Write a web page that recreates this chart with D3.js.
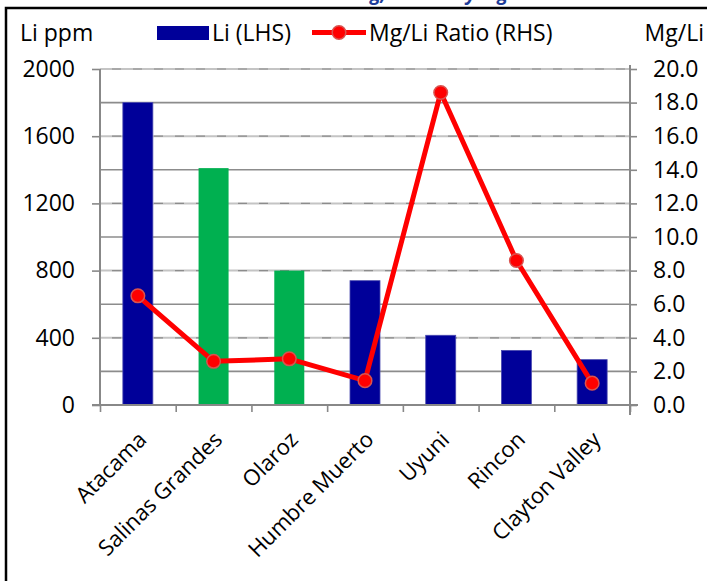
<!DOCTYPE html>
<html>
<head>
<meta charset="utf-8">
<script src="https://cdn.jsdelivr.net/npm/d3@7"></script>
<style>
  html, body { margin: 0; padding: 0; background: #fff; }
  svg { display: block; }
  text { font-family: "Open Sans", Lato, sans-serif; fill: #000; }
</style>
</head>
<body>
<svg id="chart" width="707" height="581"></svg>
<script>
// Brine sources, lithium grade (ppm) and Mg/Li ratio
const categories = ["Atacama", "Salinas Grandes", "Olaroz", "Humbre Muerto", "Uyuni", "Rincon", "Clayton Valley"];
const liPpm = [1800, 1410, 800, 740, 415, 325, 270];
const mgLiRatio = [6.5, 2.6, 2.75, 1.45, 18.6, 8.6, 1.3];
const barGroup = ["navy", "green", "green", "navy", "navy", "navy", "navy"];
const leftTicks = [0, 400, 800, 1200, 1600, 2000];
const rightTicks = [0, 2, 4, 6, 8, 10, 12, 14, 16, 18, 20];

const colors = { navy: "#000099", green: "#00b050", line: "#ff0000" };
const gridDark = "#8c8c8c";
const fontMain = "23px";

const svg = d3.select("#chart");
const W = 707, H = 581;
const plot = { left: 100, right: 630, top: 69, bottom: 405 };

const x = d3.scaleBand().domain(categories).range([plot.left, plot.right]).paddingInner(0).paddingOuter(0);
const yL = d3.scaleLinear().domain([0, 2000]).range([plot.bottom, plot.top]);
const yR = d3.scaleLinear().domain([0, 20]).range([plot.bottom, plot.top]);

// Title (sits above the frame)
svg.append("text")
  .attr("x", 390).attr("y", -0.5)
  .attr("text-anchor", "middle")
  .style("font-weight", "bold").style("font-style", "italic")
  .style("font-size", "19px").style("fill", "#1f3d99")
  .text("Brine Grade Ranking, Sorted by Mg/Li Ratio");

// Outer frame: left and top edges
svg.append("path")
  .attr("d", `M6,${H} L6,8 L${W},8`)
  .attr("fill", "none").attr("stroke", "#000").attr("stroke-width", 2.5);

// Gridlines: solid at every RHS step, dashed overlay at LHS ticks
const grid = svg.append("g");
rightTicks.forEach(v => {
  if (v === 0) return;
  const yy = yR(v);
  const onLeft = leftTicks.some(t => Math.abs(yL(t) - yy) < 0.5);
  if (onLeft) {
    grid.append("line").attr("x1", plot.left).attr("x2", plot.right).attr("y1", yy).attr("y2", yy)
      .attr("stroke", "#c4c4c4").attr("stroke-width", 2);
    grid.append("line").attr("x1", plot.left).attr("x2", plot.right).attr("y1", yy).attr("y2", yy)
      .attr("stroke", gridDark).attr("stroke-width", 1.2).attr("stroke-dasharray", "9,12")
      .attr("stroke-dashoffset", -12);
  } else {
    grid.append("line").attr("x1", plot.left).attr("x2", plot.right).attr("y1", yy).attr("y2", yy)
      .attr("stroke", gridDark).attr("stroke-width", 1.6);
  }
});

// Bars
const barW = 30;
svg.append("g").selectAll("rect").data(categories).join("rect")
  .attr("x", (d) => x(d) + x.bandwidth() / 2 - barW / 2)
  .attr("y", (d, i) => yL(liPpm[i]))
  .attr("width", barW)
  .attr("height", (d, i) => yL(0) - yL(liPpm[i]))
  .attr("fill", (d, i) => colors[barGroup[i]])
  .attr("stroke", (d, i) => barGroup[i] === "navy" ? "#4a4ab0" : "none")
  .attr("stroke-width", 0.8);

// Axes
const axisColor = "#888888";
const gL = svg.append("g").attr("transform", `translate(${plot.left},0)`)
  .call(d3.axisLeft(yL).tickValues(leftTicks).tickSize(8).tickPadding(17).tickFormat(d3.format("d")));
const gR = svg.append("g").attr("transform", `translate(${plot.right},0)`)
  .call(d3.axisRight(yR).tickValues(rightTicks).tickSize(7).tickPadding(16).tickFormat(d3.format(".1f")));
const gB = svg.append("g").attr("transform", `translate(0,${plot.bottom})`)
  .call(d3.axisBottom(d3.scaleLinear().domain([0, categories.length]).range([plot.left, plot.right]))
    .tickValues(d3.range(categories.length + 1)).tickSize(7).tickFormat(""));

[gL, gR, gB].forEach(g => {
  g.select(".domain").attr("stroke", axisColor).attr("stroke-width", 2);
  g.selectAll(".tick line").attr("stroke", axisColor).attr("stroke-width", 1.6);
  g.selectAll(".tick text").style("font-size", fontMain).style("font-family", "'Open Sans', sans-serif").attr("fill", "#000");
});
gL.select(".domain").attr("d", `M0,${plot.top}V${plot.bottom}`);
gR.select(".domain").attr("d", `M0,${plot.top - 4}V${plot.bottom + 10}`);
gB.select(".domain").attr("d", `M${plot.left - 8},0H${plot.right + 8}`);
gR.selectAll(".tick text").attr("text-anchor", "start");

// Category labels, rotated
svg.append("g").selectAll("text").data(categories).join("text")
  .attr("transform", d => `translate(${x(d) + x.bandwidth() / 2 + 10},441) rotate(-45)`)
  .attr("text-anchor", "end")
  .style("font-size", "22px")
  .text(d => d);

// Mg/Li ratio line with markers
const pts = categories.map((c, i) => [x(c) + x.bandwidth() / 2, yR(mgLiRatio[i])]);
svg.append("path")
  .attr("d", d3.line()(pts))
  .attr("fill", "none").attr("stroke", colors.line).attr("stroke-width", 5)
  .attr("stroke-linejoin", "round");
svg.append("g").selectAll("circle").data(pts).join("circle")
  .attr("cx", d => d[0]).attr("cy", d => d[1]).attr("r", 6.8)
  .attr("fill", colors.line).attr("stroke", "#d9534f").attr("stroke-width", 1.5);

// Axis titles
svg.append("text").attr("x", 20).attr("y", 41).style("font-size", fontMain).text("Li ppm");
svg.append("text").attr("x", 704).attr("y", 41).attr("text-anchor", "end").style("font-size", fontMain).text("Mg/Li");

// Legend
const lg = svg.append("g");
lg.append("rect").attr("x", 157).attr("y", 26).attr("width", 52).attr("height", 14).attr("fill", colors.navy);
lg.append("text").attr("x", 212).attr("y", 41).style("font-size", fontMain).text("Li (LHS)");
lg.append("line").attr("x1", 312).attr("x2", 366).attr("y1", 32.5).attr("y2", 32.5)
  .attr("stroke", colors.line).attr("stroke-width", 5);
lg.append("circle").attr("cx", 339).attr("cy", 32.5).attr("r", 6.8)
  .attr("fill", colors.line).attr("stroke", "#d9534f").attr("stroke-width", 1.5);
lg.append("text").attr("x", 369).attr("y", 41).style("font-size", fontMain).text("Mg/Li Ratio (RHS)");
</script>
</body>
</html>
